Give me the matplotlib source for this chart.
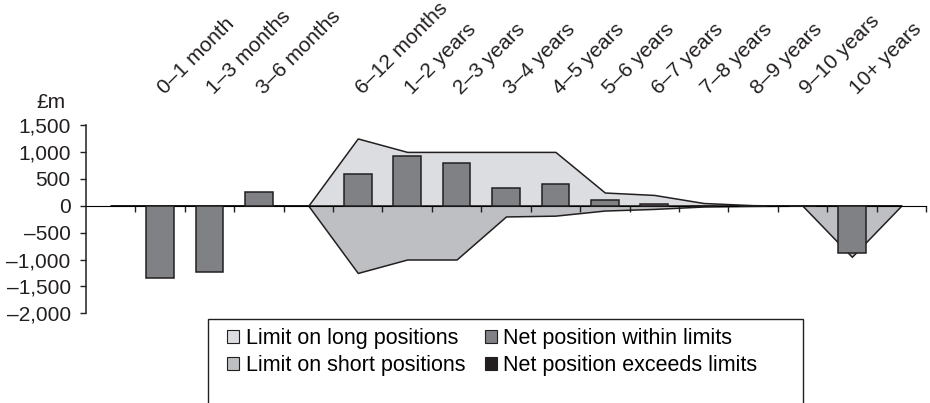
import numpy as np
import matplotlib
matplotlib.use('Agg')
import matplotlib.pyplot as plt
from matplotlib.patches import Patch, Rectangle
from matplotlib.ticker import FuncFormatter

plt.rcParams['font.family'] = ['Liberation Sans', 'DejaVu Sans']
plt.rcParams['font.size'] = 15

# maturity buckets (blank slots are spacers in the original chart)
buckets = ['', '0–1 month', '1–3 months', '3–6 months', '', '6–12 months',
           '1–2 years', '2–3 years', '3–4 years', '4–5 years', '5–6 years',
           '6–7 years', '7–8 years', '8–9 years', '9–10 years', '10+ years', '']

# £m
long_limit = [0, 0, 0, 0, 0, 1250, 1000, 1000, 1000, 1000, 245, 200, 50, 10, 0, 0, 0]
short_limit = [0, 0, 0, 0, 0, -1250, -1000, -1000, -200, -185, -90, -60, -15, -5, 0, -950, 0]
net_position = [np.nan, -1350, -1230, 260, np.nan, 580, 920, 790, 335, 400, 100, 30,
                0, 0, 0, -870, np.nan]

c_long = '#dcdde0'
c_short = '#bebfc2'
c_net = '#808184'
c_exceed = '#231f20'
c_edge = '#231f20'

x = np.arange(len(buckets))

fig = plt.figure(figsize=(9.3, 4.03), dpi=100)
ax = fig.add_axes([86 / 930, 89.7 / 403, 840 / 930, 188.3 / 403])

# limit envelopes
ax.fill_between(x, 0, long_limit, facecolor=c_long, edgecolor=c_edge, linewidth=1.1, zorder=1)
ax.fill_between(x, 0, short_limit, facecolor=c_short, edgecolor=c_edge, linewidth=1.1, zorder=1)

# net positions
ax.bar(x, net_position, width=0.56, color=c_net, edgecolor=c_edge, linewidth=1.1, zorder=3)

ax.set_xlim(-0.5, len(buckets) - 0.5)
ax.set_ylim(-2000, 1500)
ax.set_yticks(np.arange(-2000, 1501, 500))
ax.yaxis.set_major_formatter(FuncFormatter(lambda v, p: f'{v:,.0f}'.replace('-', '–')))

for s in ['top', 'right']:
    ax.spines[s].set_visible(False)
ax.spines['bottom'].set_position(('data', 0))
ax.spines['bottom'].set_linewidth(0.8)
ax.spines['left'].set_linewidth(1.1)
ax.spines['left'].set_color(c_edge)

ax.set_xticks([])
ax.set_xticks(np.arange(0.5, len(buckets)), minor=True)
ax.tick_params(axis='x', which='minor', direction='out', length=4, width=1, colors=c_edge)
ax.tick_params(axis='y', direction='out', length=4, width=1, colors=c_edge, pad=7,
               labelcolor='#231f20')

# rotated bucket labels above the plot
for xi, lab in zip(x, buckets):
    if lab:
        ax.text(xi + 0.1, 1.16, lab, transform=ax.get_xaxis_transform(), rotation=45,
                rotation_mode='anchor', ha='left', va='baseline', color='#231f20')

fig.text(51 / 930, 1 - 102 / 403, '£m', ha='center', va='center', color='#231f20')

# legend
handles = [
    Patch(facecolor=c_long, edgecolor=c_edge, linewidth=0.8, label='Limit on long positions'),
    Patch(facecolor=c_short, edgecolor=c_edge, linewidth=0.8, label='Limit on short positions'),
    Patch(facecolor=c_net, edgecolor=c_edge, linewidth=0.8, label='Net position within limits'),
    Patch(facecolor=c_exceed, edgecolor=c_edge, linewidth=0.8, label='Net position exceeds limits'),
]
fig.legend(handles=handles, ncol=2, frameon=False, loc='upper left', fontsize=15.5,
           bbox_to_anchor=(210 / 930, 1 - 311 / 403), handlelength=0.56, handleheight=0.56,
           handletextpad=0.3, columnspacing=0.9, labelspacing=0.27, borderpad=0.3)
fig.patches.append(Rectangle((208 / 930, -0.1), (803 - 208) / 930, 1.1 - 319 / 403,
                             transform=fig.transFigure, fill=False,
                             edgecolor=c_edge, linewidth=1.0))

fig.savefig('out.png', dpi=100)
